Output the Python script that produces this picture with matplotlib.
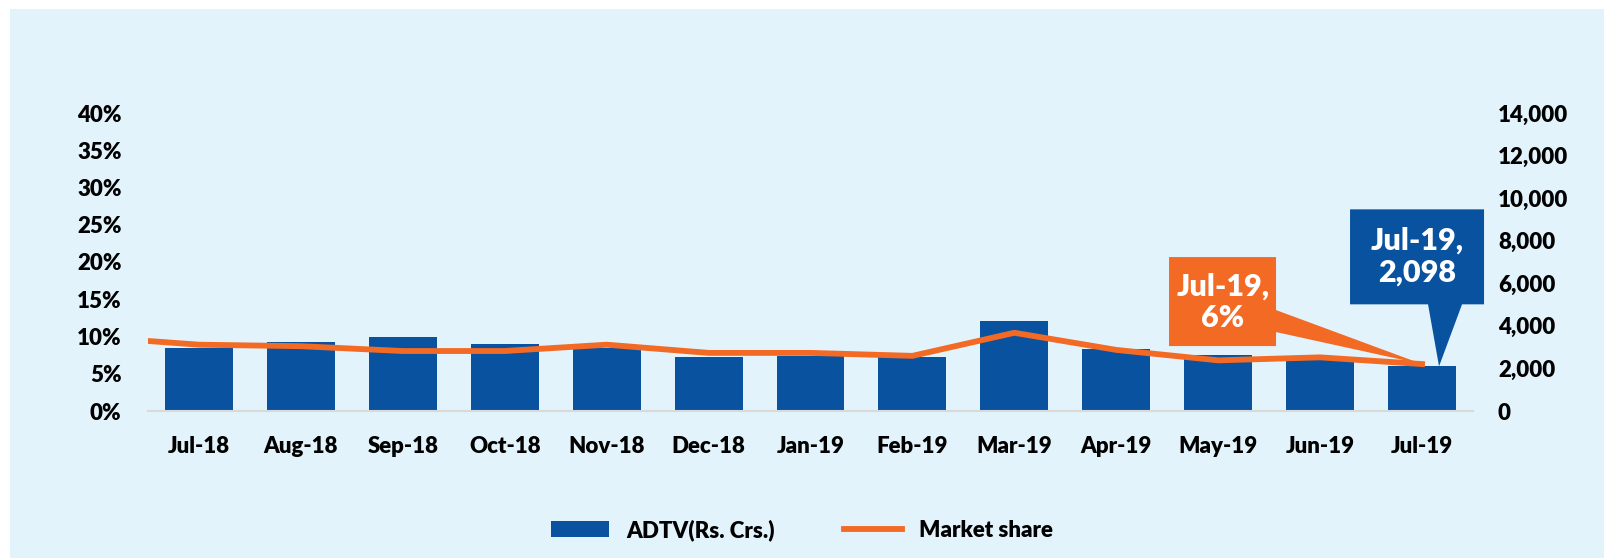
import matplotlib
matplotlib.use("Agg")
import matplotlib.pyplot as plt
from matplotlib.patches import Polygon, Rectangle
from matplotlib.ticker import FuncFormatter, MultipleLocator

months = ["Jul-18", "Aug-18", "Sep-18", "Oct-18", "Nov-18", "Dec-18", "Jan-19",
          "Feb-19", "Mar-19", "Apr-19", "May-19", "Jun-19", "Jul-19"]
adtv = [2960, 3240, 3480, 3150, 2960, 2540, 2600, 2540, 4230, 2910, 2630, 2440, 2098]
share = [8.9, 8.7, 8.05, 8.05, 8.9, 7.8, 7.8, 7.4, 10.5, 8.2, 6.8, 7.2, 6.3]
share_prev_month = 9.9  # Jun-18, only its segment into Jul-18 shows

BLUE = "#0852A0"
ORANGE = "#F26A24"
BG = "#E2F3FC"

plt.rcParams["font.family"] = ["Lato", "DejaVu Sans"]
plt.rcParams["font.weight"] = "heavy"

fig = plt.figure(figsize=(16.04, 5.58), dpi=100)
fig.patch.set_facecolor("white")
fig.patches.append(Rectangle((10 / 1604, 0), 1, 549 / 558, transform=fig.transFigure,
                             facecolor=BG, edgecolor="none", zorder=-10))

ax = fig.add_axes([148 / 1604, 147 / 558, 1325 / 1604, 298 / 558])
ax2 = ax.twinx()
ax.set_zorder(ax2.get_zorder() + 1)
ax.patch.set_visible(False)
ax2.patch.set_visible(False)

x = list(range(len(months)))
bars = ax2.bar(x, adtv, width=0.667, color=BLUE, label="ADTV(Rs. Crs.)")
line, = ax.plot([-1] + x, [share_prev_month] + share, color=ORANGE, linewidth=4.2,
                solid_joinstyle="round", label="Market share")

ax.set_xlim(-0.5, len(months) - 0.5)
ax.set_ylim(0, 40)
ax2.set_ylim(0, 14000)
ax.yaxis.set_major_locator(MultipleLocator(5))
ax2.yaxis.set_major_locator(MultipleLocator(2000))
ax.yaxis.set_major_formatter(FuncFormatter(lambda v, p: f"{v:.0f}%"))
ax2.yaxis.set_major_formatter(FuncFormatter(lambda v, p: f"{v:,.0f}"))
ax.set_xticks(x)
ax.set_xticklabels(months)

for a in (ax, ax2):
    for side in ("top", "left", "right", "bottom"):
        a.spines[side].set_visible(False)
    a.tick_params(length=0, labelsize=16)
ax.spines["bottom"].set_visible(True)
ax.spines["bottom"].set_color("#D9D9D9")
ax.spines["bottom"].set_linewidth(1.5)
ax.tick_params(axis="y", pad=19)
ax.tick_params(axis="x", pad=18)
ax2.tick_params(axis="y", pad=18)


def callout(anchor_ax, xy, verts, text_xy, text, color):
    # verts / text_xy are pixel offsets from the anchor data point
    px, py = anchor_ax.transData.transform(xy)
    to_fig = fig.transFigure.inverted()
    pts = [to_fig.transform((px + dx, py + dy)) for dx, dy in verts]
    fig.patches.append(Polygon(pts, closed=True, transform=fig.transFigure,
                               facecolor=color, edgecolor="none", zorder=5))
    tx, ty = to_fig.transform((px + text_xy[0], py + text_xy[1]))
    fig.text(tx, ty, text, color="white", fontsize=22, fontweight="heavy",
             ha="center", va="center", linespacing=1.15, zorder=6)


callout(ax, (12, share[12]),
        [(-253, 18), (-146, 18), (-146, 32), (0, 0), (-146, 54), (-146, 107), (-253, 107)],
        (-199, 62), "Jul-19,\n6%", ORANGE)
callout(ax2, (12, adtv[12]),
        [(-72, 62), (6, 62), (17, 0), (40, 62), (62, 62), (62, 157), (-72, 157)],
        (-5, 110), "Jul-19,\n2,098", BLUE)

fig.legend([bars, line], ["ADTV(Rs. Crs.)", "Market share"], loc="center",
           bbox_to_anchor=(0.5, 0.05), ncol=2, frameon=False, fontsize=16,
           handlelength=2.6, handletextpad=0.8, columnspacing=3.1)

fig.savefig("out.png", dpi=100)
